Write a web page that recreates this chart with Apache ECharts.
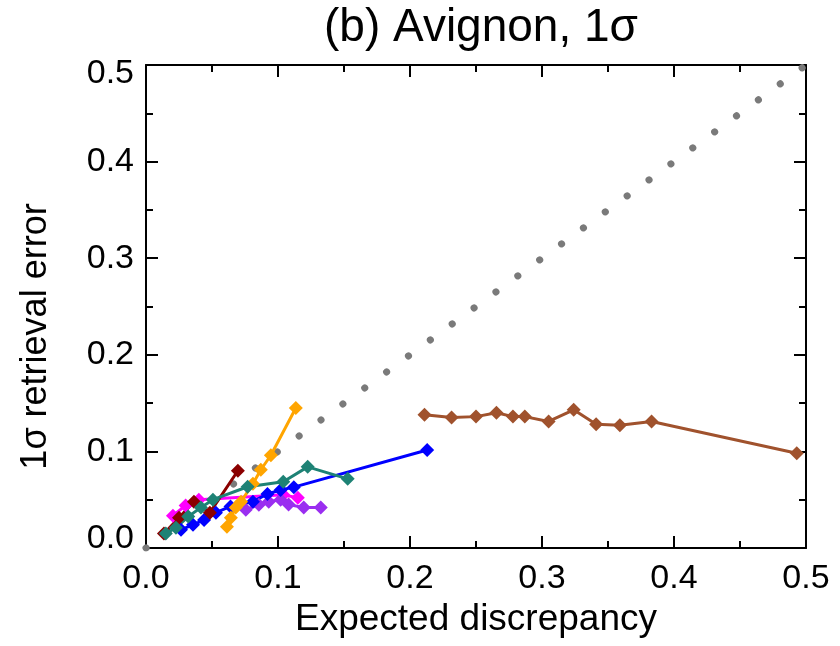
<!DOCTYPE html>
<html>
<head>
<meta charset="utf-8">
<script src="https://cdn.jsdelivr.net/npm/echarts@6/dist/echarts.min.js"></script>
<style>
  html, body { margin: 0; padding: 0; background: #fff; }
  #chart { width: 840px; height: 646px; }
</style>
</head>
<body>
<div id="chart"></div>
<script>
// Expected discrepancy (x) vs 1-sigma retrieval error (y), one list per run
const brownX  = [0.211, 0.2315, 0.250, 0.2655, 0.278, 0.287, 0.305, 0.324, 0.341, 0.359, 0.383, 0.493];
const brownY  = [0.138, 0.135, 0.136, 0.140, 0.136, 0.136, 0.131, 0.143, 0.128, 0.127, 0.131, 0.098];

const blueX   = [0.0265, 0.0356, 0.044, 0.053, 0.064, 0.081, 0.092, 0.102, 0.112, 0.213];
const blueY   = [0.019, 0.024, 0.029, 0.0366, 0.043, 0.048, 0.056, 0.060, 0.063, 0.1015];

const tealX   = [0.015, 0.0227, 0.032, 0.0416, 0.0507, 0.077, 0.104, 0.1225, 0.1528];
const tealY   = [0.015, 0.021, 0.0325, 0.042, 0.050, 0.0634, 0.0686, 0.084, 0.0716];

const magentaX = [0.0204, 0.030, 0.040, 0.104, 0.115];
const magentaY = [0.0335, 0.044, 0.050, 0.055, 0.052];

const purpleX = [0.0756, 0.0855, 0.093, 0.102, 0.108, 0.1195, 0.1324];
const purpleY = [0.0397, 0.0448, 0.048, 0.050, 0.045, 0.0418, 0.0418];

const maroonX = [0.0136, 0.025, 0.0363, 0.0484, 0.0696];
const maroonY = [0.015, 0.0314, 0.048, 0.0366, 0.080];

const orangeX = [0.0613, 0.0643, 0.068, 0.072, 0.081, 0.087, 0.0946, 0.1135];
const orangeY = [0.022, 0.0314, 0.0418, 0.048, 0.0665, 0.081, 0.096, 0.145];

// one-to-one reference line
const oneToOneX = [0, 0.5];
const oneToOneY = [0, 0.5];

const titleText = '(b) Avignon, 1σ';
const xName = 'Expected discrepancy';
const yName = '1σ retrieval error';

const zip = (xs, ys) => xs.map((x, i) => [x, ys[i]]);

const FONT = '"Liberation Sans", Arial, Helvetica, sans-serif';

function runSeries(name, xs, ys, color) {
  return {
    name: name,
    type: 'line',
    data: zip(xs, ys),
    symbol: 'diamond',
    symbolSize: 14,
    lineStyle: { color: color, width: 3 },
    itemStyle: { color: color },
    z: 3,
    animation: false
  };
}

const frameLine = { show: true, onZero: false, lineStyle: { color: '#000', width: 2 } };
const majorTick = { show: true, inside: true, length: 12, lineStyle: { color: '#000', width: 2 } };
const minorTick = { show: true, splitNumber: 2, length: 7, lineStyle: { color: '#000', width: 2 } };
const range = { min: 0, max: 0.5, interval: 0.1 };

const chart = echarts.init(document.getElementById('chart'), null, { renderer: 'canvas' });
chart.setOption({
  backgroundColor: '#fff',
  animation: false,
  title: {
    text: titleText,
    left: 476, top: 0, textAlign: 'center',
    textStyle: { fontFamily: FONT, fontSize: 46, fontWeight: 'normal', color: '#000' }
  },
  grid: { left: 146, right: 34, top: 65, bottom: 98 },
  xAxis: [{
    type: 'value', ...range, position: 'bottom',
    name: xName, nameLocation: 'middle', nameGap: 50,
    nameTextStyle: { fontFamily: FONT, fontSize: 37, color: '#000' },
    axisLine: frameLine, axisTick: majorTick, minorTick: minorTick,
    axisLabel: { fontFamily: FONT, fontSize: 34, color: '#000', margin: 14, formatter: v => v.toFixed(1) },
    splitLine: { show: false }
  }, {
    type: 'value', ...range, position: 'top',
    axisLine: frameLine, axisTick: majorTick, minorTick: minorTick,
    axisLabel: { show: false },
    splitLine: { show: false }
  }],
  yAxis: [{
    type: 'value', ...range, position: 'left',
    name: yName, nameLocation: 'middle', nameGap: 92, nameRotate: 90,
    nameTextStyle: { fontFamily: FONT, fontSize: 36, color: '#000', padding: [0, 60, 0, 0] },
    axisLine: frameLine, axisTick: majorTick, minorTick: minorTick,
    axisLabel: { fontFamily: FONT, fontSize: 34, lineHeight: 18, color: '#000', margin: 12,
                 formatter: v => v.toFixed(1),
                 verticalAlignMinLabel: 'bottom', verticalAlignMaxLabel: 'top' },
    splitLine: { show: false }
  }, {
    type: 'value', ...range, position: 'right',
    axisLine: frameLine, axisTick: majorTick, minorTick: minorTick,
    axisLabel: { show: false },
    splitLine: { show: false }
  }],
  series: [
    {
      name: '1:1',
      type: 'line',
      data: zip(oneToOneX, oneToOneY),
      symbol: 'none',
      lineStyle: { color: '#7a7a7a', width: 7, type: [0.1, 27], cap: 'round' },
      z: 1,
      animation: false
    },
    runSeries('brown', brownX, brownY, '#A0522D'),
    runSeries('magenta', magentaX, magentaY, '#FF00FF'),
    runSeries('purple', purpleX, purpleY, '#9A2EF0'),
    runSeries('blue', blueX, blueY, '#0000FF'),
    runSeries('maroon', maroonX, maroonY, '#8B0000'),
    runSeries('orange', orangeX, orangeY, '#FFA500'),
    runSeries('teal', tealX, tealY, '#1E8275')
  ]
});
</script>
</body>
</html>
